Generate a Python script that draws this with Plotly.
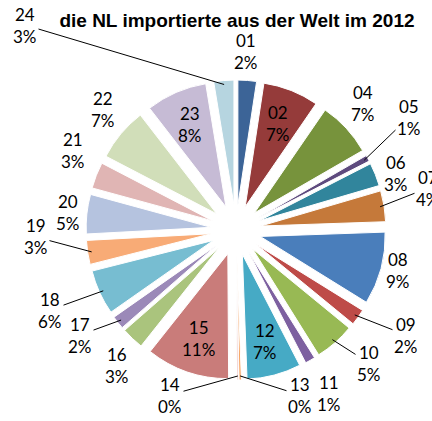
import math
import plotly.graph_objects as go

# Warengruppen (Kapitel) und Anteil am Import 2012
codes = ['01', '02', '04', '05', '06', '07', '08', '09', '10', '11', '12', '13',
         '14', '15', '16', '17', '18', '19', '20', '21', '22', '23', '24']
shares = [2.4, 7.2, 7.1, 0.8, 3.0, 4.0, 9.4, 2.1, 5.2, 1.3, 7.0, 0.3,
          0.2, 10.8, 2.9, 1.7, 5.8, 3.1, 5.1, 3.4, 6.9, 7.9, 2.6]
inside = ['02', '12', '15', '23']

colors = ['#3C6497', '#953B3A', '#77933C', '#5E4A7E', '#31859C', '#C5793A',
          '#4A7EBB', '#BE4B48', '#98B954', '#7D60A0', '#46AAC5', '#F59D56',
          '#E8A9A8', '#C97C7A', '#AAC47D', '#9B89B8', '#77BDD1', '#F8AB76',
          '#B5C3DF', '#E0B5B4', '#D1DEB9', '#C6BBD5', '#B6D5E0']

W, H = 432, 421
cx, cy, R = 236, 230, 150   # pie centre and outer radius in pixels
pull = 0.2

# where the outside labels sit (pixels), and which get a leader line
label_pos = {'01': (246, 52), '04': (363, 103), '05': (409, 117),
             '06': (396, 173), '07': (428, 188), '08': (398, 270),
             '09': (406, 335), '10': (369, 363), '11': (329, 393),
             '13': (300, 395), '14': (170, 395), '16': (117, 365),
             '17': (80, 335), '18': (50, 310), '19': (36, 237),
             '20': (68, 212), '21': (73, 150), '22': (103, 110),
             '24': (25, 25)}
leaders = ['05', '07', '09', '10', '13', '14', '17', '18', '19', '24']

fig = go.Figure(go.Pie(
    labels=codes,
    values=shares,
    sort=False,
    direction='clockwise',
    rotation=0,
    pull=pull,
    marker=dict(colors=colors, line=dict(color='white', width=1)),
    textinfo='none',
    hoverinfo='label+percent',
    showlegend=False,
    domain=dict(x=[(cx - R) / W, (cx + R) / W],
                y=[1 - (cy + R) / H, 1 - (cy - R) / H]),
))

font = dict(family='Lato', size=17, color='black')
total = sum(shares)
cum = 0
for code, v in zip(codes, shares):
    mid = 2 * math.pi * (cum + v / 2) / total
    cum += v
    text = f'{code}<br>{round(100 * v / total)}%'
    sx, sy = math.sin(mid), -math.cos(mid)
    if code in inside:
        px, py = cx + 115 * sx, cy + 115 * sy
    else:
        px, py = label_pos[code]
    if code in leaders:
        ex, ey = cx + (R - 4) * sx, cy + (R - 4) * sy
        fig.add_annotation(x=ex / W, y=1 - ey / H, xref='paper', yref='paper',
                           text=text, showarrow=True, arrowhead=0,
                           arrowwidth=1, arrowcolor='black',
                           ax=px - ex, ay=py - ey, standoff=0, font=font)
    else:
        fig.add_annotation(x=px / W, y=1 - py / H, xref='paper', yref='paper',
                           xanchor='center', yanchor='middle',
                           text=text, showarrow=False, font=font)

fig.update_layout(
    width=W, height=H,
    paper_bgcolor='white',
    margin=dict(l=0, r=0, t=0, b=0),
    title=dict(text='<b>die NL importierte aus der Welt im 2012</b>',
               x=237 / W, xanchor='center', y=1 - 20 / H, yanchor='middle',
               font=dict(family='Arial', size=19, color='black')),
)

fig.write_html('out.html', config={'displayModeBar': False},
               post_script="document.body.style.margin='0';")
